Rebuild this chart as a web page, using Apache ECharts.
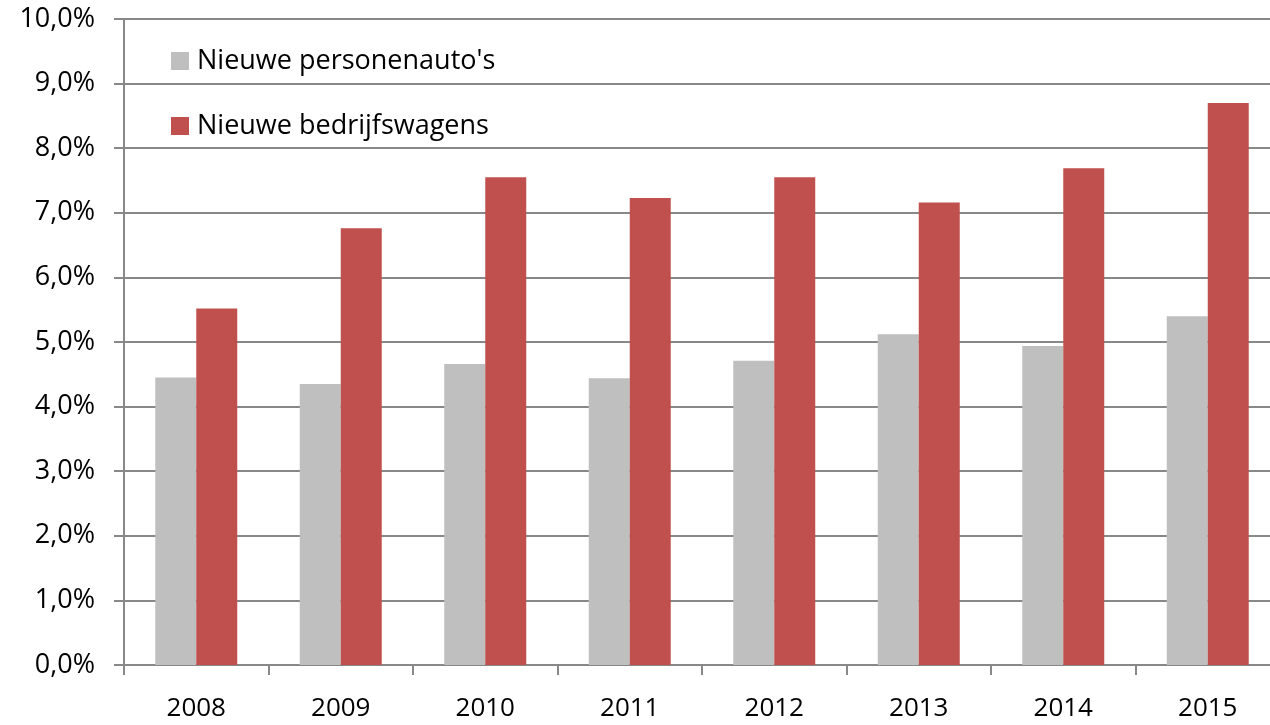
<!DOCTYPE html>
<html>
<head>
<meta charset="utf-8">
<script src="https://cdn.jsdelivr.net/npm/echarts@6/dist/echarts.min.js"></script>
<style>
html,body{margin:0;padding:0;background:#fff;overflow:hidden;width:1270px;height:725px;}
#chart{width:1280px;height:725px;}
</style>
</head>
<body>
<div id="chart"></div>
<script>
const categories = ['2008','2009','2010','2011','2012','2013','2014','2015'];
const seriesNames = ["Nieuwe personenauto's", 'Nieuwe bedrijfswagens'];
const personenauto = [4.45, 4.35, 4.66, 4.44, 4.71, 5.12, 4.94, 5.40];
const bedrijfswagens = [5.52, 6.76, 7.55, 7.23, 7.55, 7.16, 7.69, 8.70];

const FONT = 'Open Sans';
const chart = echarts.init(document.getElementById('chart'));
chart.setOption({
  animation: false,
  backgroundColor: '#ffffff',
  grid: { left: 124, top: 19, bottom: 60, right: 0, containLabel: false },
  legend: {
    orient: 'vertical',
    left: 166, top: 41,
    itemWidth: 18, itemHeight: 18, itemGap: 35,
    icon: 'rect',
    textStyle: { fontFamily: FONT, fontSize: 27, color: '#000', lineHeight: 30, padding: [0,0,0,3] },
    data: seriesNames
  },
  xAxis: {
    type: 'category',
    data: categories,
    axisLine: { lineStyle: { color: '#888888', width: 2 } },
    axisTick: { show: true, length: 10, lineStyle: { color: '#888888', width: 2 } },
    axisLabel: { fontFamily: FONT, fontSize: 26, color: '#000', margin: 31 }
  },
  yAxis: {
    type: 'value',
    min: 0, max: 10, interval: 1,
    axisLine: { show: true, lineStyle: { color: '#888888', width: 2 } },
    axisTick: { show: true, length: 10, lineStyle: { color: '#888888', width: 2 } },
    splitLine: { lineStyle: { color: '#888888', width: 2 } },
    axisLabel: {
      fontFamily: FONT, fontSize: 27, color: '#000', margin: 29,
      formatter: v => v.toFixed(1).replace('.', ',') + '%'
    }
  },
  series: [
    { name: seriesNames[0], type: 'bar', data: personenauto, barWidth: 41, barGap: '0%',
      itemStyle: { color: '#BFBFBF' } },
    { name: seriesNames[1], type: 'bar', data: bedrijfswagens, barWidth: 41,
      itemStyle: { color: '#C0504D' } }
  ]
});
</script>
</body>
</html>
